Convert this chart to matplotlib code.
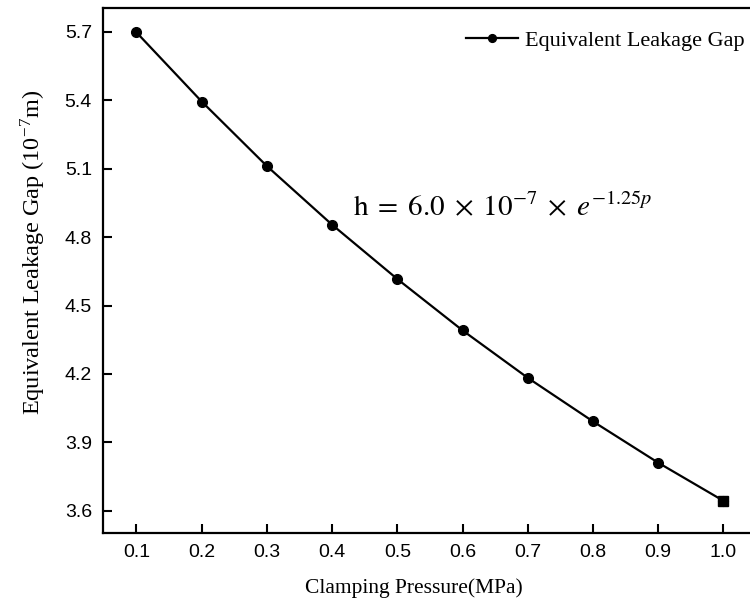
import matplotlib
matplotlib.use("Agg")
import matplotlib.pyplot as plt

# Clamping pressure (MPa) and equivalent leakage gap (1e-7 m)
pressure = [0.1, 0.2, 0.3, 0.4, 0.5, 0.6, 0.7, 0.8, 0.9, 1.0]
gap = [5.697, 5.394, 5.111, 4.854, 4.616, 4.391, 4.183, 3.992, 3.811, 3.644]

x_ticks = [0.1, 0.2, 0.3, 0.4, 0.5, 0.6, 0.7, 0.8, 0.9, 1.0]
y_ticks = [3.6, 3.9, 4.2, 4.5, 4.8, 5.1, 5.4, 5.7]

SERIF = "Liberation Serif"
SANS = "Liberation Sans"
plt.rcParams["mathtext.fontset"] = "stix"

fig = plt.figure(figsize=(7.5, 6.07), dpi=100)
ax = fig.add_axes([0.1373, 0.1219, 0.866, 0.8649])

ax.plot(pressure, gap, color="black", lw=1.6, marker="o", markersize=7,
        label="Equivalent Leakage Gap", zorder=3)
# the end point is drawn as a square
ax.plot(pressure[-1:], gap[-1:], ls="none", marker="s", markersize=7,
        color="black", zorder=4)

ax.set_xlim(0.0486, 1.0445)
ax.set_ylim(3.503, 5.804)
ax.set_xticks(x_ticks)
ax.set_xticklabels([f"{v:.1f}" for v in x_ticks], fontname=SANS, fontsize=14)
ax.set_yticks(y_ticks)
ax.set_yticklabels([f"{v:.1f}" for v in y_ticks], fontname=SANS, fontsize=14)
ax.tick_params(direction="in", length=6.5, width=1.5, pad=8)

for side in ("left", "bottom", "top"):
    ax.spines[side].set_linewidth(1.6)
ax.spines["right"].set_visible(False)

ax.set_xlabel("Clamping Pressure(MPa)", fontname=SERIF, fontsize=15.5,
              labelpad=12, x=0.478)
ax.set_ylabel(r"Equivalent Leakage Gap (10$^{\mathregular{-7}}$m)",
              fontname=SERIF, fontsize=17.5, labelpad=12, y=0.535)

ax.text(0.432, 4.894, r"$\mathrm{h}\;=\;6.0\;\times\;10^{-7}\;\times\;e^{-1.25p}$",
        fontsize=21, color="black", va="baseline")

leg = ax.legend(loc="upper right", frameon=False, prop={"family": SERIF, "size": 16},
                handlelength=2.35, handletextpad=0.33, borderaxespad=0,
                markerscale=0.8, bbox_to_anchor=(1.002, 0.975))

fig.savefig("out.png", dpi=100)
